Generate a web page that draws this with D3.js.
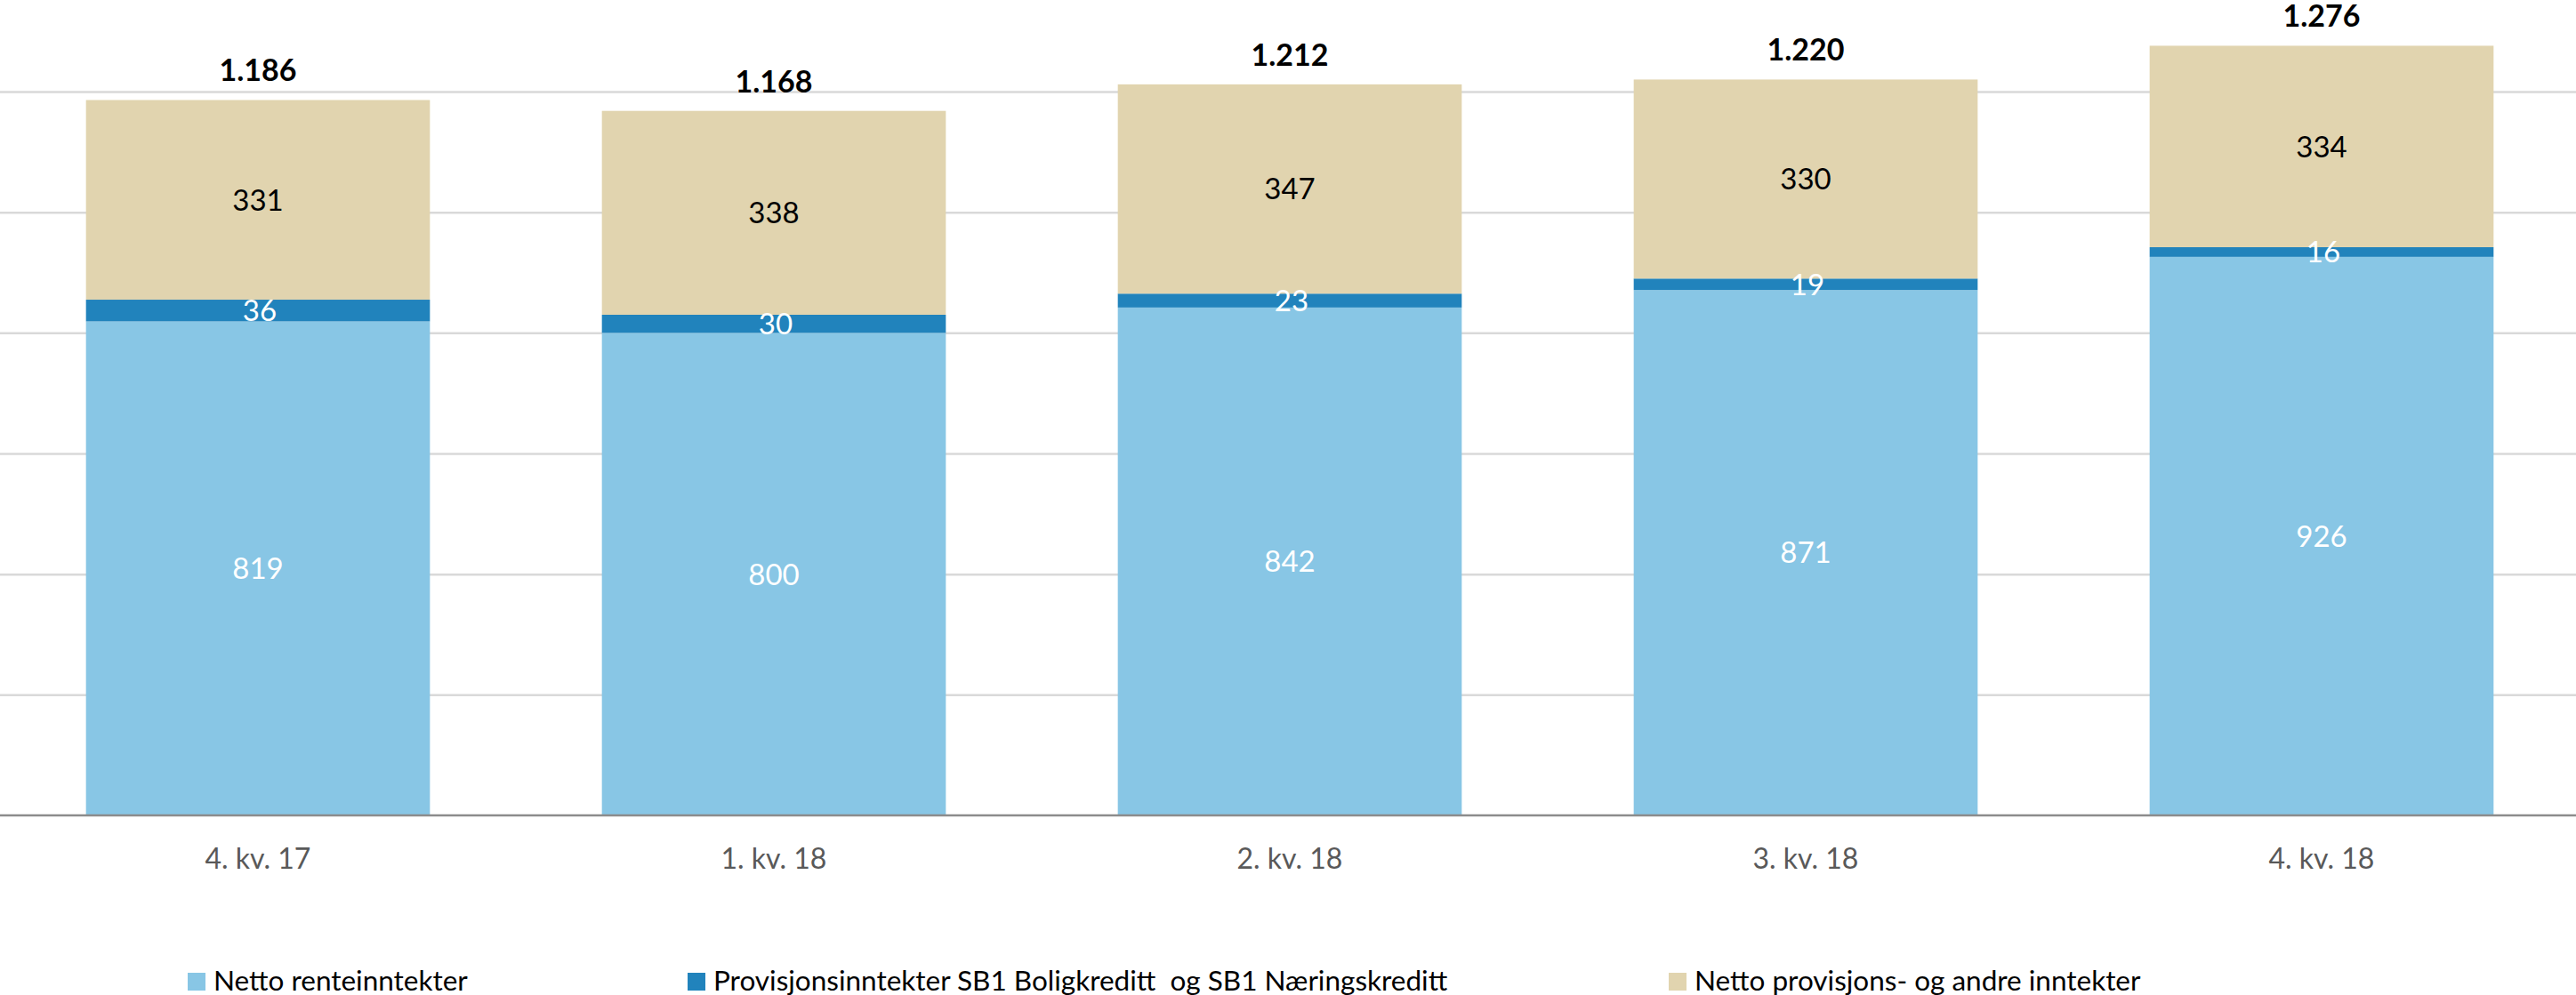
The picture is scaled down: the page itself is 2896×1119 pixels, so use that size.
<!DOCTYPE html>
<html>
<head>
<meta charset="utf-8">
<script src="https://d3js.org/d3.v7.min.js"></script>
<style>
  body { margin: 0; background: #fff; }
  text { font-family: Lato, "Open Sans", sans-serif; }
</style>
</head>
<body>
<script>
var width = 2896, height = 1119;

// data (MNOK)
var categories = ["4. kv. 17", "1. kv. 18", "2. kv. 18", "3. kv. 18", "4. kv. 18"];
var nettoRente = [819, 800, 842, 871, 926];
var provKreditt = [36, 30, 23, 19, 16];
var provAndre = [331, 338, 347, 330, 334];
var gridTicks = [200, 400, 600, 800, 1000, 1200];

var seriesNames = ["Netto renteinntekter",
  "Provisjonsinntekter SB1 Boligkreditt  og SB1 Næringskreditt",
  "Netto provisjons- og andre inntekter"];
var colors = ["#88C6E5", "#2183BC", "#E1D4AF"];
var labelColors = ["#ffffff", "#ffffff", "#000000"];

var rows = categories.map(function(c, i) {
  return {cat: c, s0: nettoRente[i], s1: provKreditt[i], s2: provAndre[i]};
});

var nb = d3.formatLocale({decimal: ",", thousands: ".", grouping: [3], currency: ["", " kr"]});
var fmtTotal = nb.format(",d");

var svg = d3.select("body").append("svg")
  .attr("width", width)
  .attr("height", height);

var x = d3.scaleBand()
  .domain(categories)
  .range([0, 2900])
  .paddingInner(1 / 3)
  .paddingOuter(1 / 6);

var y = d3.scaleLinear()
  .domain([0, 1200])
  .range([917, 103]);

// gridlines
var grid = svg.append("g")
  .attr("class", "grid")
  .call(d3.axisLeft(y).tickValues(gridTicks).tickSize(-width).tickFormat(""));
grid.select(".domain").remove();
grid.selectAll("line").attr("stroke", "#d9d9d9").attr("stroke-width", 2.5);

var stack = d3.stack().keys(["s0", "s1", "s2"]);
var layers = stack(rows);

var layer = svg.selectAll(".layer").data(layers).enter()
  .append("g")
  .attr("class", "layer")
  .attr("fill", function(d, i) { return colors[i]; });

layer.selectAll("rect").data(function(d) { return d; }).enter()
  .append("rect")
  .attr("x", function(d) { return x(d.data.cat); })
  .attr("y", function(d) { return y(d[1]); })
  .attr("width", x.bandwidth())
  .attr("height", function(d) { return y(d[0]) - y(d[1]); });

// segment labels
layers.forEach(function(l, k) {
  svg.append("g").selectAll("text").data(l).enter()
    .append("text")
    .attr("x", function(d) { return x(d.data.cat) + x.bandwidth() / 2 + (k == 1 ? 2 : 0); })
    .attr("y", function(d) { return (y(d[0]) + y(d[1])) / 2; })
    .attr("dy", "0.36em")
    .attr("text-anchor", "middle")
    .style("font-size", "33px")
    .style("fill", labelColors[k])
    .text(function(d) { return d.data["s" + k]; });
});

// totals
svg.append("g").selectAll("text").data(layers[2]).enter()
  .append("text")
  .attr("x", function(d) { return x(d.data.cat) + x.bandwidth() / 2; })
  .attr("y", function(d) { return y(d[1]) - 21; })
  .attr("text-anchor", "middle")
  .style("font-size", "34px")
  .style("font-weight", 700)
  .style("fill", "#000")
  .text(function(d) { return fmtTotal(d[1]); });

// baseline
svg.append("line")
  .attr("x1", 0).attr("x2", width)
  .attr("y1", y(0)).attr("y2", y(0))
  .attr("stroke", "#8c8c8c")
  .attr("stroke-width", 2.5);

// x axis labels
var xAxis = svg.append("g")
  .attr("class", "x axis")
  .attr("transform", "translate(0," + y(0) + ")")
  .call(d3.axisBottom(x).tickSize(0));
xAxis.select(".domain").remove();
xAxis.selectAll("text")
  .attr("y", 60)
  .attr("dy", null)
  .style("font-family", "Lato, sans-serif")
  .style("font-size", "32px")
  .style("fill", "#595959");

// legend
var legendX = [211, 773, 1876];
var legend = svg.append("g").selectAll("g").data(seriesNames).enter()
  .append("g")
  .attr("transform", function(d, i) { return "translate(" + legendX[i] + ",1094)"; });
legend.append("rect")
  .attr("width", 20).attr("height", 20)
  .attr("fill", function(d, i) { return colors[i]; });
legend.append("text")
  .attr("x", 29)
  .attr("y", 20)
  .style("font-size", "31.5px")
  .style("fill", "#000")
  .attr("xml:space", "preserve")
  .style("white-space", "pre")
  .text(function(d) { return d; });
</script>
</body>
</html>
